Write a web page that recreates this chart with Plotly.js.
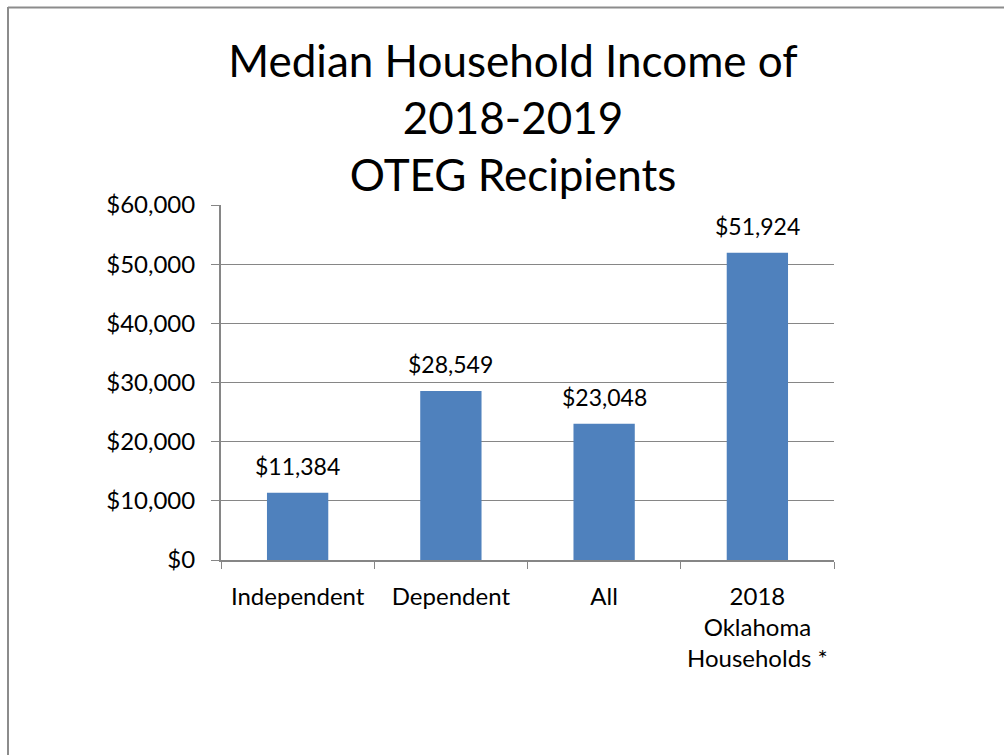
<!DOCTYPE html>
<html>
<head>
<meta charset="utf-8">
<script src="https://cdn.plot.ly/plotly-3.0.1.min.js"></script>
<style>
html,body{margin:0;padding:0;background:#fff;}
#chart{width:1004px;height:755px;}
</style>
</head>
<body>
<div id="chart"></div>
<script>
var categories = ["Independent", "Dependent", "All", "2018<br>Oklahoma<br>Households *"];
var values = [11384, 28549, 23048, 51924];
var valueLabels = ["$11,384", "$28,549", "$23,048", "$51,924"];
var yTickVals = [0, 10000, 20000, 30000, 40000, 50000, 60000];
var yTickText = ["$0", "$10,000", "$20,000", "$30,000", "$40,000", "$50,000", "$60,000"];
var titleText = "Median Household Income of<br>2018-2019<br>OTEG Recipients";

var W = 1004, H = 755;
var M = {l: 221, r: 170, t: 205, b: 195};
var pw = W - M.l - M.r, ph = H - M.t - M.b;
function px2x(p){ return (p - M.l) / pw; }
function py2y(p){ return (H - M.b - p) / ph; }

var FONT = "Lato, 'Open Sans', sans-serif";
var GRID = "#868686";

var trace = {
  type: "bar",
  x: categories,
  y: values,
  marker: {color: "#4F81BD", line: {width: 0}},
  hoverinfo: "x+y",
  showlegend: false
};

var annotations = categories.map(function(c, i){
  return {
    x: c, y: values[i], xref: "x", yref: "y",
    text: valueLabels[i], showarrow: false,
    yanchor: "bottom", xanchor: "center", yshift: 11,
    font: {family: FONT, size: 23, color: "#000000"}
  };
});

var layout = {
  width: W, height: H,
  margin: M,
  paper_bgcolor: "#ffffff",
  plot_bgcolor: "#ffffff",
  bargap: 0.6,
  title: {
    text: titleText,
    font: {family: FONT, size: 44, color: "#000000"},
    x: 0.511, xanchor: "center",
    y: 0.898, yanchor: "top",
    yref: "container"
  },
  xaxis: {
    type: "category",
    showgrid: false,
    showline: true, linecolor: GRID, linewidth: 2,
    ticks: "outside", tickson: "boundaries", ticklen: 7, tickcolor: GRID, tickwidth: 1,
    tickfont: {family: FONT, size: 24, color: "#000000"},
    tickangle: 0,
    ticklabelstandoff: 14,
    fixedrange: true
  },
  yaxis: {
    range: [0, 60000],
    tickvals: yTickVals, ticktext: yTickText,
    showgrid: true, gridcolor: GRID, gridwidth: 1,
    zeroline: false,
    showline: true, linecolor: GRID, linewidth: 2,
    ticks: "outside", ticklen: 8, tickcolor: GRID, tickwidth: 1,
    tickfont: {family: FONT, size: 24, color: "#000000"},
    ticklabelstandoff: 11,
    fixedrange: true
  },
  annotations: annotations,
  shapes: [
    {type: "line", xref: "paper", yref: "paper",
     x0: px2x(8), x1: px2x(1004), y0: py2y(7.5), y1: py2y(7.5),
     line: {color: "#8c8c8c", width: 2}},
    {type: "line", xref: "paper", yref: "paper",
     x0: px2x(8), x1: px2x(8), y0: py2y(7), y1: py2y(755),
     line: {color: "#8c8c8c", width: 2}}
  ]
};

Plotly.newPlot("chart", [trace], layout, {displayModeBar: false, staticPlot: false});
</script>
</body>
</html>
